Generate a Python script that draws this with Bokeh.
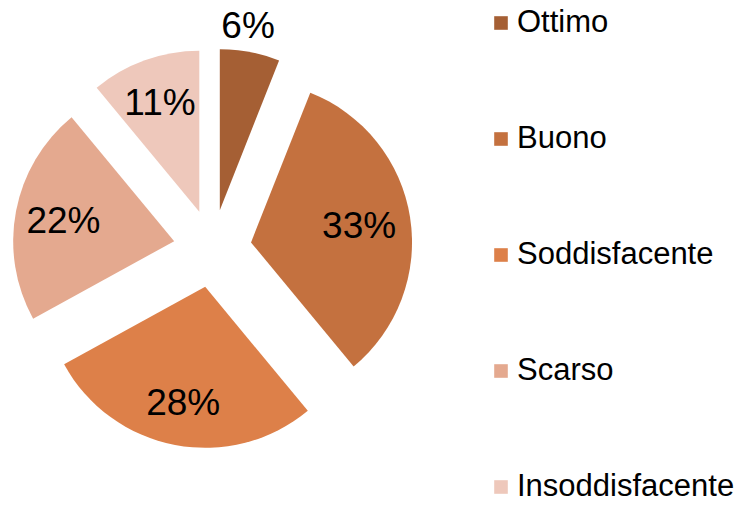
import numpy as np
from bokeh.plotting import figure
from bokeh.models import ColumnDataSource, Range1d, Legend, LegendItem
from bokeh.embed import file_html
from bokeh.resources import INLINE
from bokeh.core.properties import value

# ---- data ----
categories = ["Ottimo", "Buono", "Soddisfacente", "Scarso", "Insoddisfacente"]
percent = [6, 33, 28, 22, 11]
colors = ["#A55F34", "#C4713F", "#DD8049", "#E4A98F", "#EEC8BB"]
labels = ["6%", "33%", "28%", "22%", "11%"]

# ---- layout ----
W, H = 743, 506
CX, CY = 212, H - 248      # pie centre (data units = px)
R = 161
EXPLODE = 39
LABEL_R = [1.17, 0.68, 0.73, 0.70, 0.72]
LABEL_DX = [-7, 0, 0, 0, 0]   # small horizontal nudge (px) of the outside label

frac = np.array(percent, dtype=float) / sum(percent)
cum = np.concatenate([[0.0], np.cumsum(frac)])
start = np.pi / 2 - 2 * np.pi * cum[1:]
end = np.pi / 2 - 2 * np.pi * cum[:-1]
mid = (start + end) / 2
x = CX + EXPLODE * np.cos(mid)
y = CY + EXPLODE * np.sin(mid)
lx = x + R * np.array(LABEL_R) * np.cos(mid) + np.array(LABEL_DX)
ly = y + R * np.array(LABEL_R) * np.sin(mid)

src = ColumnDataSource(dict(x=x, y=y, start=start, end=end, color=colors,
                            cat=categories, lx=lx, ly=ly, lab=labels))

p = figure(width=W, height=H, output_backend="svg", toolbar_location=None,
           x_range=Range1d(0, W), y_range=Range1d(0, H), min_border=0,
           match_aspect=False)
p.axis.visible = False
p.grid.visible = False
p.outline_line_color = None
p.background_fill_color = "white"
p.border_fill_color = "white"

r = p.wedge(x="x", y="y", radius=R, start_angle="start", end_angle="end",
            fill_color="color", line_color=None, source=src)

p.text(x="lx", y="ly", text="lab", source=src, text_align="center",
       text_baseline="middle", text_font=value("Liberation Sans"),
       text_font_size="37px", text_color="black")

items = [LegendItem(label=c, renderers=[r], index=i) for i, c in enumerate(categories)]
legend = Legend(items=items, location=(492, 2), glyph_width=17, glyph_height=17,
                label_height=36, label_text_font="Liberation Sans",
                label_text_font_size="31px", label_text_color="black",
                label_standoff=8, spacing=80,
                padding=0, margin=0, border_line_color=None,
                background_fill_alpha=0)
p.add_layout(legend)

open("out.html", "w").write(file_html(p, INLINE))
